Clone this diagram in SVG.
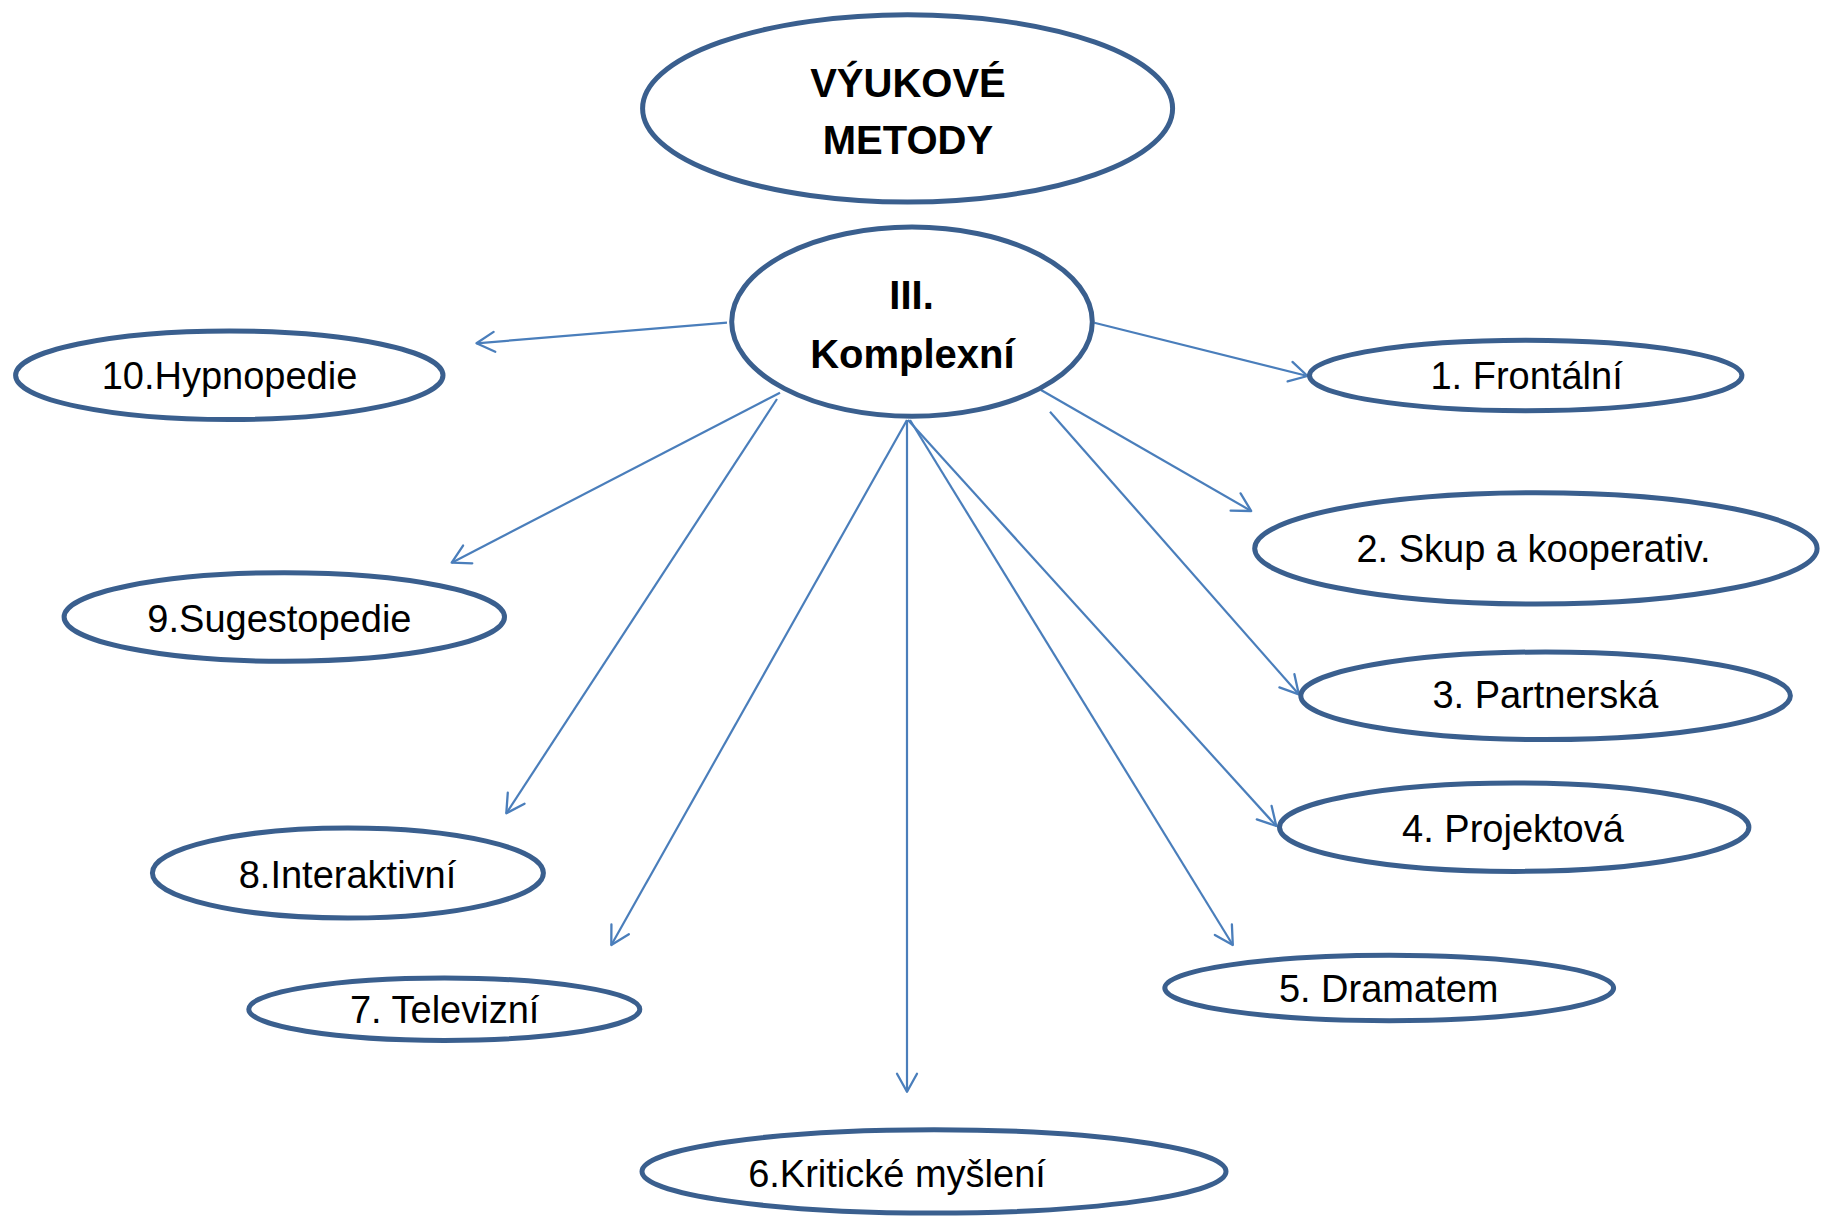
<svg xmlns="http://www.w3.org/2000/svg" width="1822" height="1218" viewBox="0 0 1822 1218">
<defs>
<marker id="arr" markerUnits="userSpaceOnUse" markerWidth="26" markerHeight="26" viewBox="-22 -13 26 26" refX="0" refY="0" orient="auto">
<path d="M -18 -10 L 0 0 L -18 10" fill="none" stroke="#4A7EBB" stroke-width="2.3" stroke-linecap="round" stroke-linejoin="round"/>
</marker>
<style>
.n{fill:#ffffff;stroke:#3A5F8E;stroke-width:5}
.t{font-family:"Liberation Sans",Arial,sans-serif;font-size:38px;fill:#000;text-anchor:middle}
.b{font-family:"Liberation Sans",Arial,sans-serif;font-size:40px;font-weight:bold;fill:#000;text-anchor:middle}
.c line{stroke:#4A7EBB;stroke-width:2.2;marker-end:url(#arr)}
</style>
</defs>
<rect width="1822" height="1218" fill="#ffffff"/>
<g id="connectors" class="c">
<line x1="727" y1="322.7" x2="476.5" y2="343.3"/>
<line x1="780" y1="392.7" x2="451.7" y2="562.7"/>
<line x1="777" y1="399" x2="506.3" y2="813.3"/>
<line x1="907" y1="420" x2="611.3" y2="945"/>
<line x1="907" y1="420" x2="907" y2="1091.7"/>
<line x1="910" y1="420" x2="1232.8" y2="945"/>
<line x1="908" y1="420" x2="1276.3" y2="826"/>
<line x1="1050" y1="411.7" x2="1298.8" y2="694.3"/>
<line x1="1041" y1="390" x2="1251.2" y2="511"/>
<line x1="1094.3" y1="322.7" x2="1307.5" y2="376"/>
</g>
<g id="vyukove-metody">
<ellipse class="n" cx="907.6" cy="108.4" rx="265" ry="93.6"/>
<text class="b" x="908" y="97">VÝUKOVÉ</text>
<text class="b" x="908" y="154">METODY</text>
</g>
<g id="komplexni">
<ellipse class="n" cx="912" cy="321.7" rx="180.3" ry="94.6"/>
<text class="b" x="911.6" y="309">III.</text>
<text class="b" x="912.4" y="368">Komplexní</text>
</g>
<g id="n10">
<ellipse class="n" cx="229.3" cy="375.3" rx="213.7" ry="44.3"/>
<text class="t" x="229.5" y="389">10.Hypnopedie</text>
</g>
<g id="n9">
<ellipse class="n" cx="284.3" cy="617" rx="220.2" ry="44.3"/>
<text class="t" x="279.4" y="631.7">9.Sugestopedie</text>
</g>
<g id="n8">
<ellipse class="n" cx="347.9" cy="873" rx="195.5" ry="45"/>
<text class="t" x="347.5" y="887.7">8.Interaktivní</text>
</g>
<g id="n7">
<ellipse class="n" cx="444.3" cy="1009.2" rx="195.5" ry="31.2"/>
<text class="t" x="444.7" y="1022.7">7. Televizní</text>
</g>
<g id="n6">
<ellipse class="n" cx="934" cy="1171.4" rx="292" ry="41.7"/>
<text class="t" x="897" y="1187">6.Kritické myšlení</text>
</g>
<g id="n5">
<ellipse class="n" cx="1389.2" cy="988" rx="224.4" ry="32.7"/>
<text class="t" x="1388.7" y="1001.7">5. Dramatem</text>
</g>
<g id="n4">
<ellipse class="n" cx="1514.2" cy="827.2" rx="234.7" ry="44.2"/>
<text class="t" x="1513" y="841.7">4. Projektová</text>
</g>
<g id="n3">
<ellipse class="n" cx="1545.6" cy="695.8" rx="244.8" ry="43.8"/>
<text class="t" x="1545.4" y="708.3">3. Partnerská</text>
</g>
<g id="n2">
<ellipse class="n" cx="1535.9" cy="548.4" rx="281.2" ry="55.7"/>
<text class="t" x="1533.5" y="561.7">2. Skup a kooperativ.</text>
</g>
<g id="n1">
<ellipse class="n" cx="1525.7" cy="375.5" rx="216.2" ry="35.2"/>
<text class="t" x="1526.6" y="389.3">1. Frontální</text>
</g>
</svg>
